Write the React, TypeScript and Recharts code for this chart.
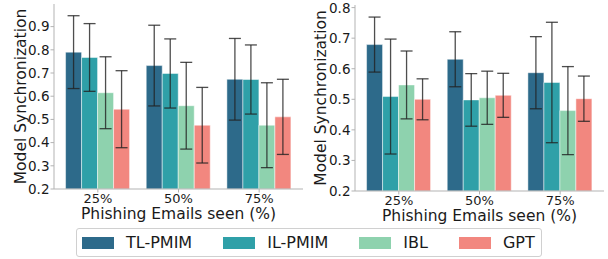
import { BarChart, Bar, XAxis, YAxis, ErrorBar, Label } from 'recharts';

const categories = ['25%', '50%', '75%'];
const seriesNames = ['TL-PMIM', 'IL-PMIM', 'IBL', 'GPT'];
const seriesColors = ['#2d6a8a', '#2fa0a8', '#8ed2ae', '#f2877f'];

// left panel: means and error bar half-widths
const leftTL = [0.79, 0.732, 0.673];
const leftTLErr = [0.157, 0.174, 0.176];
const leftIL = [0.767, 0.698, 0.672];
const leftILErr = [0.146, 0.149, 0.149];
const leftIBL = [0.615, 0.559, 0.475];
const leftIBLErr = [0.155, 0.187, 0.183];
const leftGPT = [0.544, 0.475, 0.511];
const leftGPTErr = [0.166, 0.163, 0.162];

// right panel
const rightTL = [0.679, 0.631, 0.587];
const rightTLErr = [0.09, 0.09, 0.118];
const rightIL = [0.509, 0.498, 0.555];
const rightILErr = [0.188, 0.086, 0.197];
const rightIBL = [0.547, 0.505, 0.463];
const rightIBLErr = [0.111, 0.087, 0.144];
const rightGPT = [0.5, 0.513, 0.502];
const rightGPTErr = [0.067, 0.072, 0.074];

const leftTicks = [0.2, 0.3, 0.4, 0.5, 0.6, 0.7, 0.8, 0.9];
const rightTicks = [0.2, 0.3, 0.4, 0.5, 0.6, 0.7, 0.8];

const FONT = '"DejaVu Sans", sans-serif';
const FRAME = '#b3b3b3';
const TEXT = '#1a1a1a';

const buildRows = (means: number[][], errs: number[][]) =>
  categories.map((cat, i) => {
    const row: Record<string, string | number> = { cat };
    seriesNames.forEach((name, s) => {
      row[`v${s}`] = means[s][i];
      row[`e${s}`] = errs[s][i];
    });
    return row;
  });

interface PanelProps {
  means: number[][];
  errs: number[][];
  domain: [number, number];
  ticks: number[];
  width: number;
  yAxisWidth: number;
  margin: { top: number; right: number; bottom: number; left: number };
}

const Panel = ({ means, errs, domain, ticks, width, yAxisWidth, margin }: PanelProps) => {
  const data = buildRows(means, errs);
  return (
    <BarChart
      width={width}
      height={259}
      data={data}
      margin={margin}
      barCategoryGap='10%'
      barGap={0}
    >
      <XAxis
        dataKey='cat'
        height={31}
        padding={{ left: 3.5, right: 3.5 }}
        tick={{ fontSize: 13, fill: TEXT, fontFamily: FONT }}
        tickSize={3.5}
        tickMargin={1}
        stroke={FRAME}
      >
        <Label
          value='Phishing Emails seen (%)'
          position='insideBottom'
          offset={1}
          style={{ fontSize: 15.5, fill: TEXT, fontFamily: FONT }}
        />
      </XAxis>
      <XAxis
        xAxisId='top'
        dataKey='cat'
        orientation='top'
        height={0}
        tick={false}
        tickLine={false}
        stroke={FRAME}
      />
      <YAxis
        width={yAxisWidth}
        domain={domain}
        ticks={ticks}
        type='number'
        allowDataOverflow
        tickFormatter={(v: number) => v.toFixed(1)}
        tick={{ fontSize: 13.5, fill: TEXT, fontFamily: FONT }}
        tickSize={3.5}
        tickMargin={1}
        stroke={FRAME}
      >
        <Label
          value='Model Synchronization'
          angle={-90}
          position='center'
          dx={-7}
          style={{ fontSize: 15.5, fill: TEXT, fontFamily: FONT, textAnchor: 'middle' }}
        />
      </YAxis>
      <YAxis
        yAxisId='right'
        orientation='right'
        width={0}
        domain={domain}
        tick={false}
        tickLine={false}
        stroke={FRAME}
      />
      {seriesNames.map((name, s) => (
        <Bar
          key={name}
          dataKey={`v${s}`}
          name={name}
          fill={seriesColors[s]}
          stroke='#ffffff'
          strokeOpacity={0.6}
          strokeWidth={0.8}
          isAnimationActive={false}
        >
          <ErrorBar
            dataKey={`e${s}`}
            width={6}
            stroke='#222222'
            strokeOpacity={0.8}
            strokeWidth={1.3}
            direction='y'
          />
        </Bar>
      ))}
    </BarChart>
  );
};

const App = () => (
  <div
    style={{
      position: 'absolute',
      left: 0,
      top: 0,
      width: 608,
      height: 259,
      background: '#ffffff',
      fontFamily: FONT,
      overflow: 'hidden',
    }}
  >
    <div style={{ position: 'absolute', left: 0, top: 0 }}>
      <Panel
        means={[leftTL, leftIL, leftIBL, leftGPT]}
        errs={[leftTLErr, leftILErr, leftIBLErr, leftGPTErr]}
        domain={[0.2, 0.9975]}
        ticks={leftTicks}
        width={304}
        yAxisWidth={54}
        margin={{ top: 4, right: 1, bottom: 39, left: 0 }}
      />
    </div>
    <div style={{ position: 'absolute', left: 300, top: 0 }}>
      <Panel
        means={[rightTL, rightIL, rightIBL, rightGPT]}
        errs={[rightTLErr, rightILErr, rightIBLErr, rightGPTErr]}
        domain={[0.2, 0.8085]}
        ticks={rightTicks}
        width={308}
        yAxisWidth={55}
        margin={{ top: 5, right: 4, bottom: 37, left: 0 }}
      />
    </div>

    {/* shared legend under both panels */}
    <div
      style={{
        position: 'absolute',
        left: 76,
        top: 228,
        width: 466,
        height: 29,
        boxSizing: 'border-box',
        border: '1px solid #d0d0d0',
        borderRadius: 3,
        display: 'flex',
        alignItems: 'center',
        paddingLeft: 5,
        fontSize: 16,
        color: TEXT,
      }}
    >
      {seriesNames.map((name, s) => (
        <div
          key={name}
          style={{ display: 'flex', alignItems: 'center', marginRight: s < 3 ? 31 : 0 }}
        >
          <span
            style={{
              display: 'inline-block',
              width: 32,
              height: 12,
              background: seriesColors[s],
              marginRight: 12,
            }}
          />
          <span style={{ lineHeight: '18px' }}>{name}</span>
        </div>
      ))}
    </div>
  </div>
);

export default App;
